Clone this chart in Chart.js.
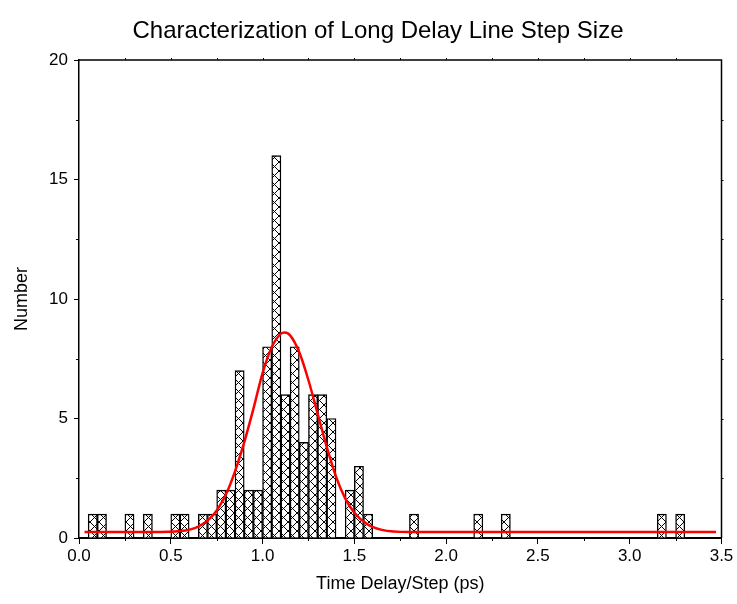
<!DOCTYPE html>
<html>
<head>
<meta charset="utf-8">
<title>Characterization of Long Delay Line Step Size</title>
<script src="https://cdn.jsdelivr.net/npm/chart.js@4/dist/chart.umd.min.js"></script>
<style>
  body { margin: 0; background: #fff; }
  #wrap { width: 737px; height: 604px; }
</style>
</head>
<body>
<div id="wrap"><canvas id="histChart" width="737" height="604"></canvas></div>
<script>
// histogram bins (left edge, ps) and counts
var binWidth = 0.05;
var binStart = [0.05, 0.10, 0.25, 0.35, 0.50, 0.55, 0.65, 0.70, 0.75, 0.80,
                0.85, 0.90, 0.95, 1.00, 1.05, 1.10, 1.15, 1.20, 1.25, 1.30,
                1.35, 1.45, 1.50, 1.55, 1.80, 2.15, 2.30, 3.15, 3.25];
var counts   = [1, 1, 1, 1, 1, 1, 1, 1, 2, 2,
                7, 2, 2, 8, 16, 6, 8, 4, 6, 6,
                5, 2, 3, 1, 1, 1, 1, 1, 1];

// red fit curve
var fitX = [0.03, 0.40, 0.55, 0.65, 0.73, 0.80, 0.85, 0.90, 0.95, 1.00, 1.05, 1.10, 1.12,
            1.15, 1.20, 1.25, 1.30, 1.35, 1.40, 1.45, 1.50, 1.57, 1.65, 1.80, 3.47];
var fitY = [0.25, 0.25, 0.29, 0.48, 0.95, 1.82, 2.79, 4.00, 5.40, 6.90, 7.98, 8.55, 8.60,
            8.48, 7.77, 6.60, 5.20, 3.80, 2.57, 1.66, 1.06, 0.58, 0.34, 0.25, 0.25];

var xTicks = [0, 0.5, 1.0, 1.5, 2.0, 2.5, 3.0, 3.5];
var yTicks = [0, 5, 10, 15, 20];

var chartTitle = 'Characterization of Long Delay Line Step Size';
var fontName = "'Liberation Sans', Arial, sans-serif";

// crosshatch fill for the bars
function makeHatch() {
    var c = document.createElement('canvas');
    c.width = 9; c.height = 9;
    var g = c.getContext('2d');
    g.fillStyle = '#fff';
    g.fillRect(0, 0, 9, 9);
    g.strokeStyle = '#000';
    g.lineWidth = 1;
    g.beginPath();
    g.moveTo(0, 0); g.lineTo(9, 9);
    g.moveTo(9, 0); g.lineTo(0, 9);
    g.stroke();
    return g.createPattern(c, 'repeat');
}

var barData = [];
for (var i = 0; i < binStart.length; i++) {
    barData.push({ x: binStart[i] + binWidth / 2, y: counts[i] });
}
var fitData = [];
for (var j = 0; j < fitX.length; j++) {
    fitData.push({ x: fitX[j], y: fitY[j] });
}

// box frame, minor ticks and the title (sits off-centre in the original)
var framePlugin = {
    id: 'frame',
    afterDraw: function(chart) {
        var ctx = chart.ctx, a = chart.chartArea;
        var xs = chart.scales.x, ys = chart.scales.y;
        ctx.save();
        ctx.strokeStyle = '#000';
        ctx.lineWidth = 1.5;
        ctx.beginPath();
        ctx.moveTo(a.left, a.top);
        ctx.lineTo(a.right, a.top);
        ctx.lineTo(a.right, a.bottom);
        ctx.stroke();
        ctx.lineWidth = 1;
        ctx.beginPath();
        for (var v = 0.25; v < 3.5; v += 0.5) {
            var px = Math.round(xs.getPixelForValue(v)) + 0.5;
            ctx.moveTo(px, a.bottom); ctx.lineTo(px, a.bottom + 3);
        }
        for (var t = 0.25; t < 3.5; t += 0.25) {
            var pt = Math.round(xs.getPixelForValue(t)) + 0.5;
            ctx.moveTo(pt, a.top); ctx.lineTo(pt, a.top - 2);
        }
        for (var w = 2.5; w < 20; w += 5) {
            var py = Math.round(ys.getPixelForValue(w)) + 0.5;
            ctx.moveTo(a.left, py); ctx.lineTo(a.left - 3, py);
        }
        for (var u = 2.5; u < 20; u += 2.5) {
            var pu = Math.round(ys.getPixelForValue(u)) + 0.5;
            ctx.moveTo(a.right, pu); ctx.lineTo(a.right + 2, pu);
        }
        ctx.stroke();

        ctx.fillStyle = '#000';
        ctx.font = '24px ' + fontName;
        ctx.textAlign = 'center';
        ctx.textBaseline = 'middle';
        ctx.fillText(chartTitle, 378, 31);
        ctx.restore();
    }
};

var chartHist = new Chart(document.getElementById('histChart'), {
    type: 'bar',
    data: {
        datasets: [{
            type: 'line',
            label: 'Fit',
            data: fitData,
            borderColor: '#ff0000',
            borderWidth: 2.5,
            pointRadius: 0,
            cubicInterpolationMode: 'monotone',
            fill: false
        }, {
            label: 'Number',
            data: barData,
            backgroundColor: makeHatch(),
            borderColor: '#000',
            borderWidth: 1.4,
            barPercentage: 1,
            categoryPercentage: 1
        }]
    },
    plugins: [framePlugin],
    options: {
        responsive: false,
        animation: false,
        layout: { padding: { left: 0, right: 15.5, top: 60, bottom: 0 } },
        plugins: {
            legend: { display: false },
            tooltip: { enabled: false },
            title: { display: false }
        },
        scales: {
            x: {
                type: 'linear',
                min: 0,
                max: 3.5,
                offset: false,
                afterFit: function(s) { s.height = 66; },
                afterBuildTicks: function(s) { s.ticks = xTicks.map(function(v) { return { value: v }; }); },
                ticks: {
                    color: '#000',
                    font: { family: fontName, size: 17 },
                    padding: 2,
                    maxRotation: 0,
                    callback: function(v) { return Number(v).toFixed(1); }
                },
                grid: { drawOnChartArea: false, tickLength: 6, tickColor: '#000', tickWidth: 1, offset: false },
                border: { display: true, color: '#000', width: 2 },
                title: {
                    display: true,
                    text: 'Time Delay/Step (ps)',
                    color: '#000',
                    font: { family: fontName, size: 18 },
                    padding: { top: 0, bottom: 9 }
                }
            },
            y: {
                min: 0,
                max: 20,
                afterFit: function(s) { s.width = 79; },
                afterBuildTicks: function(s) { s.ticks = yTicks.map(function(v) { return { value: v }; }); },
                ticks: {
                    color: '#000',
                    font: { family: fontName, size: 17 },
                    padding: 6
                },
                grid: { drawOnChartArea: false, tickLength: 5, tickColor: '#000', tickWidth: 1 },
                border: { display: true, color: '#000', width: 1.5 },
                title: {
                    display: true,
                    text: 'Number',
                    color: '#000',
                    font: { family: fontName, size: 18 },
                    padding: { top: 11, bottom: 0 }
                }
            }
        }
    }
});
</script>
</body>
</html>
